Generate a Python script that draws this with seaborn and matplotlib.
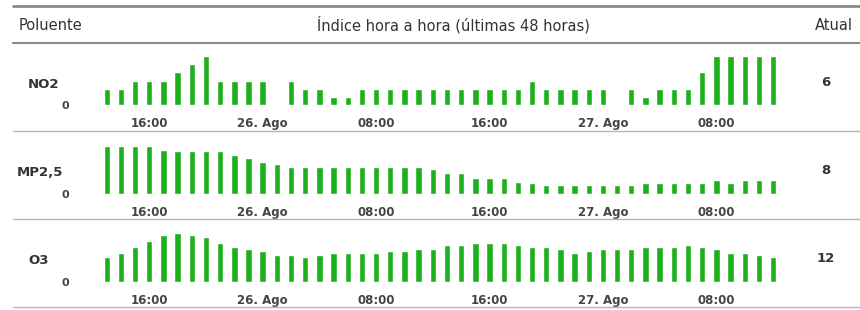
"""
Hourly air quality index, last 48 hours (NO2, MP2,5, O3)
"""

import numpy as np
import pandas as pd
import matplotlib.pyplot as plt
from matplotlib.lines import Line2D
import seaborn as sns

sns.set_style('white')
plt.rcParams['font.family'] = ['DejaVu Sans']

nan = np.nan

# Data: 48 hourly index values per pollutant (first bar = 25 Ago 13:00)
hours = list(range(48))
no2 = [2, 2, 3, 3, 3, 4, 5, 6, 3, 3, 3, 3, nan, 3, 2, 2, 1, 1, 2, 2, 2, 2, 2, 2,
       2, 2, 2, 2, 2, 2, 3, 2, 2, 2, 2, 2, nan, 2, 1, 2, 2, 2, 4, 6, 6, 6, 6, 6]
mp25 = [27, 27, 27, 27, 25, 24, 24, 24, 24, 22, 20, 18, 17, 15, 15, 15, 15, 15, 15, 15,
        15, 15, 15, 14, 12, 12, 9, 9, 9, 7, 6, 5, 5, 5, 5, 5, 5, 5, 6, 6,
        6, 6, 6, 8, 6, 8, 8, 8]
o3 = [12, 14, 17, 20, 23, 24, 23, 22, 19, 17, 16, 15, 13, 13, 12, 13, 14, 14, 14, 14,
      15, 15, 16, 16, 18, 18, 19, 19, 19, 18, 17, 17, 16, 14, 15, 16, 16, 16, 17, 17,
      17, 18, 17, 16, 14, 14, 13, 12]

pollutants = ['NO2', 'MP2,5', 'O3']
series = [no2, mp25, o3]
current = ['6', '8', '12']
tick_hours = [3, 11, 19, 27, 35, 43]
tick_labels = ['16:00', '26. Ago', '08:00', '16:00', '27. Ago', '08:00']

W, H = 860, 310
fig = plt.figure(figsize=(W / 100, H / 100), dpi=100)


def fx(px):
    return px / W


def fy(py):
    return 1 - py / H


text_color = '#333333'
tick_color = '#444444'
bar_color = '#1db01d'

# layout per row: baseline y (px), top of y-range, label left x
baselines = [105, 194, 282]
ytops = [6.15, 28.1, 24.4]
label_x = [28, 17, 28]

for i, (name, vals) in enumerate(zip(pollutants, series)):
    base = baselines[i]
    ax = fig.add_axes([fx(98.2), fy(base), fx(683.4), 50 / H])
    df = pd.DataFrame({'hour': hours, 'value': vals})
    sns.barplot(data=df, x='hour', y='value', native_scale=True, width=0.45,
                color=bar_color, saturation=1, errorbar=None, ax=ax)
    ax.set_xlim(-0.6, 47.6)
    ax.set_ylim(0, ytops[i])
    ax.set_xticks(tick_hours)
    ax.set_xticklabels(tick_labels, fontsize=8.5, fontweight='bold', color=tick_color)
    ax.set_yticks([0])
    ax.set_yticklabels(['0'], fontsize=8, fontweight='bold', color=tick_color)
    ax.tick_params(axis='x', length=0, pad=8.5)
    ax.tick_params(axis='y', length=0, pad=21)
    ax.set_xlabel('')
    ax.set_ylabel('')
    sns.despine(ax=ax, left=True, bottom=True)

    fig.text(fx(label_x[i]), fy(base - 21), name, fontsize=9.5, fontweight='bold',
             color=text_color, ha='left', va='center')
    fig.text(fx(826), fy(base - 23), current[i], fontsize=9.5, fontweight='bold',
             color=text_color, ha='center', va='center')

# header
fig.text(fx(19), fy(25), 'Poluente', fontsize=10.5,
         color=text_color, ha='left', va='center')
fig.text(fx(453), fy(25), 'Índice hora a hora (últimas 48 horas)', fontsize=10.5,
         color=text_color, ha='center', va='center')
fig.text(fx(853), fy(25), 'Atual', fontsize=10.5,
         color=text_color, ha='right', va='center')

# table rules
for y, col, lw in [(6, '#8a8a8a', 2.0), (42.5, '#8a8a8a', 1.5),
                   (131, '#b5b5b5', 1.0), (219, '#b5b5b5', 1.0), (307, '#b5b5b5', 1.0)]:
    fig.add_artist(Line2D([fx(13), 1], [fy(y), fy(y)], color=col, lw=lw))

plt.savefig('out.png', dpi=100)
